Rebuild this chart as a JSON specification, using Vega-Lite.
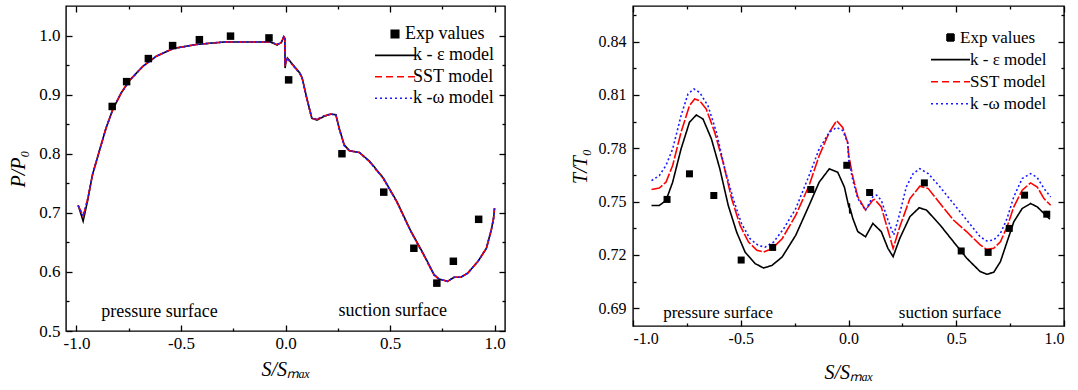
{
  "$schema": "https://vega.github.io/schema/vega-lite/v6.json",
  "padding": {"left": 8, "top": 4, "right": 0, "bottom": 0},
  "spacing": 62,
  "background": "#ffffff",
  "resolve": {"scale": {"color": "independent", "strokeDash": "independent"}, "legend": {"color": "independent", "strokeDash": "independent"}},
  "config": {
    "font": "Liberation Serif",
    "view": {"stroke": "#000000", "strokeWidth": 1.4},
    "axis": {"domain": false, "grid": false, "labelFont": "Liberation Serif", "titleFont": "Liberation Serif", "labelColor": "#000000", "titleColor": "#000000", "tickColor": "#000000", "tickWidth": 1.3, "titleFontWeight": "normal", "titleFontStyle": "italic"},
    "legend": {"labelFont": "Liberation Serif", "labelColor": "#000000"},
    "text": {"font": "Liberation Serif"}
  },
  "datasets": {
    "leftLines": [
      {"s": -0.992, "ratio": 0.713, "series": "k - ε model"},
      {"s": -0.968, "ratio": 0.686, "series": "k - ε model"},
      {"s": -0.947, "ratio": 0.720, "series": "k - ε model"},
      {"s": -0.923, "ratio": 0.765, "series": "k - ε model"},
      {"s": -0.891, "ratio": 0.804, "series": "k - ε model"},
      {"s": -0.858, "ratio": 0.844, "series": "k - ε model"},
      {"s": -0.826, "ratio": 0.875, "series": "k - ε model"},
      {"s": -0.786, "ratio": 0.903, "series": "k - ε model"},
      {"s": -0.746, "ratio": 0.924, "series": "k - ε model"},
      {"s": -0.682, "ratio": 0.948, "series": "k - ε model"},
      {"s": -0.618, "ratio": 0.965, "series": "k - ε model"},
      {"s": -0.537, "ratio": 0.978, "series": "k - ε model"},
      {"s": -0.425, "ratio": 0.985, "series": "k - ε model"},
      {"s": -0.296, "ratio": 0.989, "series": "k - ε model"},
      {"s": -0.168, "ratio": 0.989, "series": "k - ε model"},
      {"s": -0.072, "ratio": 0.989, "series": "k - ε model"},
      {"s": -0.040, "ratio": 0.984, "series": "k - ε model"},
      {"s": -0.020, "ratio": 0.988, "series": "k - ε model"},
      {"s": -0.008, "ratio": 0.998, "series": "k - ε model"},
      {"s": -0.003, "ratio": 0.995, "series": "k - ε model"},
      {"s": -0.002, "ratio": 0.945, "series": "k - ε model"},
      {"s": 0.002, "ratio": 0.955, "series": "k - ε model"},
      {"s": 0.009, "ratio": 0.962, "series": "k - ε model"},
      {"s": 0.030, "ratio": 0.953, "series": "k - ε model"},
      {"s": 0.070, "ratio": 0.936, "series": "k - ε model"},
      {"s": 0.080, "ratio": 0.928, "series": "k - ε model"},
      {"s": 0.102, "ratio": 0.894, "series": "k - ε model"},
      {"s": 0.126, "ratio": 0.860, "series": "k - ε model"},
      {"s": 0.151, "ratio": 0.857, "series": "k - ε model"},
      {"s": 0.183, "ratio": 0.863, "series": "k - ε model"},
      {"s": 0.216, "ratio": 0.867, "series": "k - ε model"},
      {"s": 0.241, "ratio": 0.866, "series": "k - ε model"},
      {"s": 0.257, "ratio": 0.843, "series": "k - ε model"},
      {"s": 0.281, "ratio": 0.815, "series": "k - ε model"},
      {"s": 0.306, "ratio": 0.805, "series": "k - ε model"},
      {"s": 0.354, "ratio": 0.802, "series": "k - ε model"},
      {"s": 0.403, "ratio": 0.787, "series": "k - ε model"},
      {"s": 0.468, "ratio": 0.759, "series": "k - ε model"},
      {"s": 0.533, "ratio": 0.719, "series": "k - ε model"},
      {"s": 0.597, "ratio": 0.671, "series": "k - ε model"},
      {"s": 0.662, "ratio": 0.629, "series": "k - ε model"},
      {"s": 0.710, "ratio": 0.596, "series": "k - ε model"},
      {"s": 0.734, "ratio": 0.588, "series": "k - ε model"},
      {"s": 0.775, "ratio": 0.584, "series": "k - ε model"},
      {"s": 0.807, "ratio": 0.591, "series": "k - ε model"},
      {"s": 0.839, "ratio": 0.591, "series": "k - ε model"},
      {"s": 0.872, "ratio": 0.598, "series": "k - ε model"},
      {"s": 0.921, "ratio": 0.618, "series": "k - ε model"},
      {"s": 0.961, "ratio": 0.640, "series": "k - ε model"},
      {"s": 0.985, "ratio": 0.672, "series": "k - ε model"},
      {"s": 0.995, "ratio": 0.690, "series": "k - ε model"},
      {"s": 1.0, "ratio": 0.708, "series": "k - ε model"},
      {"s": -0.992, "ratio": 0.713, "series": "SST model"},
      {"s": -0.968, "ratio": 0.694, "series": "SST model"},
      {"s": -0.947, "ratio": 0.722, "series": "SST model"},
      {"s": -0.923, "ratio": 0.765, "series": "SST model"},
      {"s": -0.891, "ratio": 0.804, "series": "SST model"},
      {"s": -0.858, "ratio": 0.844, "series": "SST model"},
      {"s": -0.826, "ratio": 0.875, "series": "SST model"},
      {"s": -0.786, "ratio": 0.903, "series": "SST model"},
      {"s": -0.746, "ratio": 0.924, "series": "SST model"},
      {"s": -0.682, "ratio": 0.948, "series": "SST model"},
      {"s": -0.618, "ratio": 0.965, "series": "SST model"},
      {"s": -0.537, "ratio": 0.978, "series": "SST model"},
      {"s": -0.425, "ratio": 0.985, "series": "SST model"},
      {"s": -0.296, "ratio": 0.989, "series": "SST model"},
      {"s": -0.168, "ratio": 0.989, "series": "SST model"},
      {"s": -0.072, "ratio": 0.989, "series": "SST model"},
      {"s": -0.040, "ratio": 0.985, "series": "SST model"},
      {"s": -0.020, "ratio": 0.988, "series": "SST model"},
      {"s": -0.008, "ratio": 0.998, "series": "SST model"},
      {"s": -0.003, "ratio": 0.995, "series": "SST model"},
      {"s": -0.002, "ratio": 0.948, "series": "SST model"},
      {"s": 0.002, "ratio": 0.956, "series": "SST model"},
      {"s": 0.009, "ratio": 0.961, "series": "SST model"},
      {"s": 0.030, "ratio": 0.952, "series": "SST model"},
      {"s": 0.070, "ratio": 0.935, "series": "SST model"},
      {"s": 0.080, "ratio": 0.927, "series": "SST model"},
      {"s": 0.102, "ratio": 0.893, "series": "SST model"},
      {"s": 0.126, "ratio": 0.860, "series": "SST model"},
      {"s": 0.151, "ratio": 0.858, "series": "SST model"},
      {"s": 0.183, "ratio": 0.864, "series": "SST model"},
      {"s": 0.216, "ratio": 0.867, "series": "SST model"},
      {"s": 0.241, "ratio": 0.866, "series": "SST model"},
      {"s": 0.257, "ratio": 0.842, "series": "SST model"},
      {"s": 0.281, "ratio": 0.814, "series": "SST model"},
      {"s": 0.306, "ratio": 0.805, "series": "SST model"},
      {"s": 0.354, "ratio": 0.802, "series": "SST model"},
      {"s": 0.403, "ratio": 0.786, "series": "SST model"},
      {"s": 0.468, "ratio": 0.758, "series": "SST model"},
      {"s": 0.533, "ratio": 0.718, "series": "SST model"},
      {"s": 0.597, "ratio": 0.670, "series": "SST model"},
      {"s": 0.662, "ratio": 0.628, "series": "SST model"},
      {"s": 0.710, "ratio": 0.595, "series": "SST model"},
      {"s": 0.734, "ratio": 0.588, "series": "SST model"},
      {"s": 0.775, "ratio": 0.584, "series": "SST model"},
      {"s": 0.807, "ratio": 0.591, "series": "SST model"},
      {"s": 0.839, "ratio": 0.591, "series": "SST model"},
      {"s": 0.872, "ratio": 0.598, "series": "SST model"},
      {"s": 0.921, "ratio": 0.618, "series": "SST model"},
      {"s": 0.961, "ratio": 0.640, "series": "SST model"},
      {"s": 0.985, "ratio": 0.672, "series": "SST model"},
      {"s": 0.995, "ratio": 0.690, "series": "SST model"},
      {"s": 1.0, "ratio": 0.708, "series": "SST model"},
      {"s": -0.992, "ratio": 0.712, "series": "k -ω model"},
      {"s": -0.968, "ratio": 0.695, "series": "k -ω model"},
      {"s": -0.947, "ratio": 0.722, "series": "k -ω model"},
      {"s": -0.923, "ratio": 0.765, "series": "k -ω model"},
      {"s": -0.891, "ratio": 0.804, "series": "k -ω model"},
      {"s": -0.858, "ratio": 0.844, "series": "k -ω model"},
      {"s": -0.826, "ratio": 0.875, "series": "k -ω model"},
      {"s": -0.786, "ratio": 0.903, "series": "k -ω model"},
      {"s": -0.746, "ratio": 0.924, "series": "k -ω model"},
      {"s": -0.682, "ratio": 0.948, "series": "k -ω model"},
      {"s": -0.618, "ratio": 0.965, "series": "k -ω model"},
      {"s": -0.537, "ratio": 0.978, "series": "k -ω model"},
      {"s": -0.425, "ratio": 0.985, "series": "k -ω model"},
      {"s": -0.296, "ratio": 0.989, "series": "k -ω model"},
      {"s": -0.168, "ratio": 0.989, "series": "k -ω model"},
      {"s": -0.072, "ratio": 0.989, "series": "k -ω model"},
      {"s": -0.040, "ratio": 0.985, "series": "k -ω model"},
      {"s": -0.020, "ratio": 0.989, "series": "k -ω model"},
      {"s": -0.008, "ratio": 0.999, "series": "k -ω model"},
      {"s": -0.003, "ratio": 0.996, "series": "k -ω model"},
      {"s": -0.002, "ratio": 0.950, "series": "k -ω model"},
      {"s": 0.002, "ratio": 0.957, "series": "k -ω model"},
      {"s": 0.009, "ratio": 0.962, "series": "k -ω model"},
      {"s": 0.030, "ratio": 0.952, "series": "k -ω model"},
      {"s": 0.070, "ratio": 0.935, "series": "k -ω model"},
      {"s": 0.080, "ratio": 0.927, "series": "k -ω model"},
      {"s": 0.102, "ratio": 0.893, "series": "k -ω model"},
      {"s": 0.126, "ratio": 0.860, "series": "k -ω model"},
      {"s": 0.151, "ratio": 0.858, "series": "k -ω model"},
      {"s": 0.183, "ratio": 0.864, "series": "k -ω model"},
      {"s": 0.216, "ratio": 0.867, "series": "k -ω model"},
      {"s": 0.241, "ratio": 0.866, "series": "k -ω model"},
      {"s": 0.257, "ratio": 0.842, "series": "k -ω model"},
      {"s": 0.281, "ratio": 0.814, "series": "k -ω model"},
      {"s": 0.306, "ratio": 0.805, "series": "k -ω model"},
      {"s": 0.354, "ratio": 0.802, "series": "k -ω model"},
      {"s": 0.403, "ratio": 0.786, "series": "k -ω model"},
      {"s": 0.468, "ratio": 0.758, "series": "k -ω model"},
      {"s": 0.533, "ratio": 0.718, "series": "k -ω model"},
      {"s": 0.597, "ratio": 0.670, "series": "k -ω model"},
      {"s": 0.662, "ratio": 0.628, "series": "k -ω model"},
      {"s": 0.710, "ratio": 0.595, "series": "k -ω model"},
      {"s": 0.734, "ratio": 0.588, "series": "k -ω model"},
      {"s": 0.775, "ratio": 0.584, "series": "k -ω model"},
      {"s": 0.807, "ratio": 0.591, "series": "k -ω model"},
      {"s": 0.839, "ratio": 0.591, "series": "k -ω model"},
      {"s": 0.872, "ratio": 0.598, "series": "k -ω model"},
      {"s": 0.921, "ratio": 0.618, "series": "k -ω model"},
      {"s": 0.961, "ratio": 0.640, "series": "k -ω model"},
      {"s": 0.985, "ratio": 0.672, "series": "k -ω model"},
      {"s": 0.995, "ratio": 0.690, "series": "k -ω model"},
      {"s": 1.0, "ratio": 0.708, "series": "k -ω model"}
    ],
    "leftExp": [
      {"s": -0.829, "ratio": 0.880, "series": "Exp values"},
      {"s": -0.760, "ratio": 0.922, "series": "Exp values"},
      {"s": -0.656, "ratio": 0.961, "series": "Exp values"},
      {"s": -0.540, "ratio": 0.983, "series": "Exp values"},
      {"s": -0.412, "ratio": 0.993, "series": "Exp values"},
      {"s": -0.263, "ratio": 0.999, "series": "Exp values"},
      {"s": -0.079, "ratio": 0.996, "series": "Exp values"},
      {"s": 0.015, "ratio": 0.925, "series": "Exp values"},
      {"s": 0.270, "ratio": 0.800, "series": "Exp values"},
      {"s": 0.470, "ratio": 0.735, "series": "Exp values"},
      {"s": 0.614, "ratio": 0.640, "series": "Exp values"},
      {"s": 0.724, "ratio": 0.581, "series": "Exp values"},
      {"s": 0.803, "ratio": 0.618, "series": "Exp values"},
      {"s": 0.924, "ratio": 0.689, "series": "Exp values"}
    ],
    "leftText": [
      {"s": -0.603, "ratio": 0.533, "label": "pressure surface"},
      {"s": 0.513, "ratio": 0.534, "label": "suction surface"}
    ],
    "rightLines": [
      {"s": -0.914, "ratio": 0.7478, "series": "k - ε model"},
      {"s": -0.878, "ratio": 0.7478, "series": "k - ε model"},
      {"s": -0.847, "ratio": 0.7506, "series": "k - ε model"},
      {"s": -0.816, "ratio": 0.7609, "series": "k - ε model"},
      {"s": -0.777, "ratio": 0.7796, "series": "k - ε model"},
      {"s": -0.738, "ratio": 0.7946, "series": "k - ε model"},
      {"s": -0.706, "ratio": 0.7987, "series": "k - ε model"},
      {"s": -0.675, "ratio": 0.7964, "series": "k - ε model"},
      {"s": -0.636, "ratio": 0.7852, "series": "k - ε model"},
      {"s": -0.597, "ratio": 0.7684, "series": "k - ε model"},
      {"s": -0.558, "ratio": 0.7478, "series": "k - ε model"},
      {"s": -0.519, "ratio": 0.7328, "series": "k - ε model"},
      {"s": -0.480, "ratio": 0.7216, "series": "k - ε model"},
      {"s": -0.433, "ratio": 0.7151, "series": "k - ε model"},
      {"s": -0.394, "ratio": 0.7126, "series": "k - ε model"},
      {"s": -0.355, "ratio": 0.7141, "series": "k - ε model"},
      {"s": -0.308, "ratio": 0.7188, "series": "k - ε model"},
      {"s": -0.245, "ratio": 0.7310, "series": "k - ε model"},
      {"s": -0.183, "ratio": 0.7478, "series": "k - ε model"},
      {"s": -0.136, "ratio": 0.7609, "series": "k - ε model"},
      {"s": -0.089, "ratio": 0.7684, "series": "k - ε model"},
      {"s": -0.050, "ratio": 0.7665, "series": "k - ε model"},
      {"s": -0.019, "ratio": 0.7581, "series": "k - ε model"},
      {"s": 0.000, "ratio": 0.7478, "series": "k - ε model"},
      {"s": 0.004, "ratio": 0.7490, "series": "k - ε model"},
      {"s": 0.006, "ratio": 0.7433, "series": "k - ε model"},
      {"s": 0.010, "ratio": 0.7450, "series": "k - ε model"},
      {"s": 0.020, "ratio": 0.7405, "series": "k - ε model"},
      {"s": 0.043, "ratio": 0.7331, "series": "k - ε model"},
      {"s": 0.079, "ratio": 0.7302, "series": "k - ε model"},
      {"s": 0.113, "ratio": 0.7377, "series": "k - ε model"},
      {"s": 0.152, "ratio": 0.7331, "series": "k - ε model"},
      {"s": 0.183, "ratio": 0.7237, "series": "k - ε model"},
      {"s": 0.207, "ratio": 0.7190, "series": "k - ε model"},
      {"s": 0.238, "ratio": 0.7293, "series": "k - ε model"},
      {"s": 0.285, "ratio": 0.7415, "series": "k - ε model"},
      {"s": 0.328, "ratio": 0.7465, "series": "k - ε model"},
      {"s": 0.362, "ratio": 0.7452, "series": "k - ε model"},
      {"s": 0.425, "ratio": 0.7368, "series": "k - ε model"},
      {"s": 0.487, "ratio": 0.7274, "series": "k - ε model"},
      {"s": 0.549, "ratio": 0.7181, "series": "k - ε model"},
      {"s": 0.611, "ratio": 0.7106, "series": "k - ε model"},
      {"s": 0.642, "ratio": 0.7091, "series": "k - ε model"},
      {"s": 0.674, "ratio": 0.7102, "series": "k - ε model"},
      {"s": 0.705, "ratio": 0.7162, "series": "k - ε model"},
      {"s": 0.736, "ratio": 0.7274, "series": "k - ε model"},
      {"s": 0.767, "ratio": 0.7386, "series": "k - ε model"},
      {"s": 0.806, "ratio": 0.7461, "series": "k - ε model"},
      {"s": 0.845, "ratio": 0.7489, "series": "k - ε model"},
      {"s": 0.876, "ratio": 0.7470, "series": "k - ε model"},
      {"s": 0.907, "ratio": 0.7433, "series": "k - ε model"},
      {"s": 0.935, "ratio": 0.7401, "series": "k - ε model"},
      {"s": -0.914, "ratio": 0.7568, "series": "SST model"},
      {"s": -0.878, "ratio": 0.7576, "series": "SST model"},
      {"s": -0.847, "ratio": 0.7609, "series": "SST model"},
      {"s": -0.816, "ratio": 0.7703, "series": "SST model"},
      {"s": -0.777, "ratio": 0.7890, "series": "SST model"},
      {"s": -0.738, "ratio": 0.8039, "series": "SST model"},
      {"s": -0.714, "ratio": 0.8077, "series": "SST model"},
      {"s": -0.691, "ratio": 0.8067, "series": "SST model"},
      {"s": -0.660, "ratio": 0.8020, "series": "SST model"},
      {"s": -0.621, "ratio": 0.7890, "series": "SST model"},
      {"s": -0.582, "ratio": 0.7721, "series": "SST model"},
      {"s": -0.542, "ratio": 0.7515, "series": "SST model"},
      {"s": -0.503, "ratio": 0.7366, "series": "SST model"},
      {"s": -0.464, "ratio": 0.7272, "series": "SST model"},
      {"s": -0.425, "ratio": 0.7226, "series": "SST model"},
      {"s": -0.394, "ratio": 0.7216, "series": "SST model"},
      {"s": -0.355, "ratio": 0.7235, "series": "SST model"},
      {"s": -0.308, "ratio": 0.7291, "series": "SST model"},
      {"s": -0.245, "ratio": 0.7422, "series": "SST model"},
      {"s": -0.183, "ratio": 0.7590, "series": "SST model"},
      {"s": -0.136, "ratio": 0.7758, "series": "SST model"},
      {"s": -0.089, "ratio": 0.7890, "series": "SST model"},
      {"s": -0.055, "ratio": 0.7955, "series": "SST model"},
      {"s": -0.027, "ratio": 0.7917, "series": "SST model"},
      {"s": -0.004, "ratio": 0.7833, "series": "SST model"},
      {"s": 0.001, "ratio": 0.7761, "series": "SST model"},
      {"s": 0.020, "ratio": 0.7639, "series": "SST model"},
      {"s": 0.043, "ratio": 0.7527, "series": "SST model"},
      {"s": 0.079, "ratio": 0.7452, "series": "SST model"},
      {"s": 0.113, "ratio": 0.7508, "series": "SST model"},
      {"s": 0.121, "ratio": 0.7512, "series": "SST model"},
      {"s": 0.152, "ratio": 0.7470, "series": "SST model"},
      {"s": 0.183, "ratio": 0.7339, "series": "SST model"},
      {"s": 0.207, "ratio": 0.7236, "series": "SST model"},
      {"s": 0.238, "ratio": 0.7358, "series": "SST model"},
      {"s": 0.285, "ratio": 0.7517, "series": "SST model"},
      {"s": 0.331, "ratio": 0.7586, "series": "SST model"},
      {"s": 0.370, "ratio": 0.7573, "series": "SST model"},
      {"s": 0.425, "ratio": 0.7489, "series": "SST model"},
      {"s": 0.487, "ratio": 0.7396, "series": "SST model"},
      {"s": 0.549, "ratio": 0.7330, "series": "SST model"},
      {"s": 0.611, "ratio": 0.7256, "series": "SST model"},
      {"s": 0.642, "ratio": 0.7231, "series": "SST model"},
      {"s": 0.674, "ratio": 0.7237, "series": "SST model"},
      {"s": 0.705, "ratio": 0.7274, "series": "SST model"},
      {"s": 0.736, "ratio": 0.7358, "series": "SST model"},
      {"s": 0.767, "ratio": 0.7470, "series": "SST model"},
      {"s": 0.806, "ratio": 0.7564, "series": "SST model"},
      {"s": 0.845, "ratio": 0.7605, "series": "SST model"},
      {"s": 0.876, "ratio": 0.7582, "series": "SST model"},
      {"s": 0.907, "ratio": 0.7517, "series": "SST model"},
      {"s": 0.938, "ratio": 0.7479, "series": "SST model"},
      {"s": -0.914, "ratio": 0.7618, "series": "k -ω model"},
      {"s": -0.878, "ratio": 0.7646, "series": "k -ω model"},
      {"s": -0.847, "ratio": 0.7703, "series": "k -ω model"},
      {"s": -0.816, "ratio": 0.7796, "series": "k -ω model"},
      {"s": -0.777, "ratio": 0.7983, "series": "k -ω model"},
      {"s": -0.745, "ratio": 0.8105, "series": "k -ω model"},
      {"s": -0.717, "ratio": 0.8133, "series": "k -ω model"},
      {"s": -0.691, "ratio": 0.8114, "series": "k -ω model"},
      {"s": -0.652, "ratio": 0.8039, "series": "k -ω model"},
      {"s": -0.613, "ratio": 0.7890, "series": "k -ω model"},
      {"s": -0.574, "ratio": 0.7684, "series": "k -ω model"},
      {"s": -0.535, "ratio": 0.7515, "series": "k -ω model"},
      {"s": -0.496, "ratio": 0.7375, "series": "k -ω model"},
      {"s": -0.457, "ratio": 0.7291, "series": "k -ω model"},
      {"s": -0.418, "ratio": 0.7253, "series": "k -ω model"},
      {"s": -0.387, "ratio": 0.7244, "series": "k -ω model"},
      {"s": -0.348, "ratio": 0.7272, "series": "k -ω model"},
      {"s": -0.301, "ratio": 0.7347, "series": "k -ω model"},
      {"s": -0.245, "ratio": 0.7460, "series": "k -ω model"},
      {"s": -0.183, "ratio": 0.7646, "series": "k -ω model"},
      {"s": -0.136, "ratio": 0.7796, "series": "k -ω model"},
      {"s": -0.089, "ratio": 0.7890, "series": "k -ω model"},
      {"s": -0.055, "ratio": 0.7917, "series": "k -ω model"},
      {"s": -0.027, "ratio": 0.7899, "series": "k -ω model"},
      {"s": -0.004, "ratio": 0.7833, "series": "k -ω model"},
      {"s": 0.001, "ratio": 0.7733, "series": "k -ω model"},
      {"s": 0.020, "ratio": 0.7620, "series": "k -ω model"},
      {"s": 0.043, "ratio": 0.7517, "series": "k -ω model"},
      {"s": 0.079, "ratio": 0.7452, "series": "k -ω model"},
      {"s": 0.113, "ratio": 0.7527, "series": "k -ω model"},
      {"s": 0.131, "ratio": 0.7536, "series": "k -ω model"},
      {"s": 0.152, "ratio": 0.7508, "series": "k -ω model"},
      {"s": 0.183, "ratio": 0.7396, "series": "k -ω model"},
      {"s": 0.210, "ratio": 0.7312, "series": "k -ω model"},
      {"s": 0.238, "ratio": 0.7433, "series": "k -ω model"},
      {"s": 0.268, "ratio": 0.7582, "series": "k -ω model"},
      {"s": 0.300, "ratio": 0.7657, "series": "k -ω model"},
      {"s": 0.331, "ratio": 0.7685, "series": "k -ω model"},
      {"s": 0.370, "ratio": 0.7657, "series": "k -ω model"},
      {"s": 0.425, "ratio": 0.7582, "series": "k -ω model"},
      {"s": 0.487, "ratio": 0.7489, "series": "k -ω model"},
      {"s": 0.549, "ratio": 0.7396, "series": "k -ω model"},
      {"s": 0.611, "ratio": 0.7302, "series": "k -ω model"},
      {"s": 0.642, "ratio": 0.7278, "series": "k -ω model"},
      {"s": 0.674, "ratio": 0.7284, "series": "k -ω model"},
      {"s": 0.705, "ratio": 0.7321, "series": "k -ω model"},
      {"s": 0.736, "ratio": 0.7405, "series": "k -ω model"},
      {"s": 0.767, "ratio": 0.7527, "series": "k -ω model"},
      {"s": 0.806, "ratio": 0.7630, "series": "k -ω model"},
      {"s": 0.845, "ratio": 0.7657, "series": "k -ω model"},
      {"s": 0.876, "ratio": 0.7635, "series": "k -ω model"},
      {"s": 0.907, "ratio": 0.7573, "series": "k -ω model"},
      {"s": 0.938, "ratio": 0.7526, "series": "k -ω model"}
    ],
    "rightExp": [
      {"s": -0.842, "ratio": 0.7512, "series": "Exp values"},
      {"s": -0.738, "ratio": 0.7656, "series": "Exp values"},
      {"s": -0.625, "ratio": 0.7534, "series": "Exp values"},
      {"s": -0.498, "ratio": 0.7171, "series": "Exp values"},
      {"s": -0.352, "ratio": 0.7242, "series": "Exp values"},
      {"s": -0.175, "ratio": 0.7568, "series": "Exp values"},
      {"s": -0.008, "ratio": 0.7704, "series": "Exp values"},
      {"s": 0.098, "ratio": 0.7551, "series": "Exp values"},
      {"s": 0.352, "ratio": 0.7605, "series": "Exp values"},
      {"s": 0.523, "ratio": 0.7222, "series": "Exp values"},
      {"s": 0.648, "ratio": 0.7214, "series": "Exp values"},
      {"s": 0.746, "ratio": 0.7349, "series": "Exp values"},
      {"s": 0.817, "ratio": 0.7536, "series": "Exp values"},
      {"s": 0.920, "ratio": 0.7429, "series": "Exp values"}
    ],
    "rightText": [
      {"s": -0.605, "ratio": 0.6872, "label": "pressure surface"},
      {"s": 0.471, "ratio": 0.6872, "label": "suction surface"}
    ]
  },
  "hconcat": [
    {
      "width": 439,
      "height": 325,
      "resolve": {"axis": {"x": "independent", "y": "independent"}},
      "layer": [
        {
          "data": {"name": "leftLines"},
          "mark": {"type": "line", "strokeWidth": 1.6},
          "encoding": {
            "x": {"field": "s", "type": "quantitative", "scale": {"domain": [-1.05, 1.05], "nice": false, "zero": false},
              "axis": {"orient": "bottom", "values": [-1, -0.5, 0, 0.5, 1], "tickSize": -6, "labelPadding": 10, "labelFontSize": 17, "labelFont": "Liberation Serif",
                "labelExpr": "datum.value < 0 ? '-' + format(-datum.value, '.1f') : format(datum.value, '.1f')",
                "title": "S/Sₘₐₓ", "titleFont": "Liberation Serif", "titleFontSize": 20, "titlePadding": 8}},
            "y": {"field": "ratio", "type": "quantitative", "scale": {"domain": [0.5, 1.05], "nice": false, "zero": false},
              "axis": {"orient": "left", "values": [0.5, 0.6, 0.7, 0.8, 0.9, 1.0], "tickSize": -6, "labelPadding": 12, "labelFontSize": 17, "labelFont": "Liberation Serif", "format": ".1f",
                "title": "P/P₀", "titleFont": "Liberation Serif", "titleFontSize": 20, "titlePadding": 10}},
            "color": {"field": "series", "type": "nominal",
              "scale": {"domain": ["Exp values", "k - ε model", "SST model", "k -ω model"], "range": ["#000000", "#000000", "#ff0000", "#1a1aff"]},
              "legend": {"orient": "none", "legendX": 320, "legendY": 19, "title": null, "padding": 0, "labelFont": "Liberation Serif", "labelFontSize": 18, "labelOffset": 9, "rowPadding": 3.4, "symbolSize": 100,
                "encode": {
                  "symbols": {"update": {
                    "shape": {"signal": "datum.value === 'Exp values' ? 'square' : 'M-4,0H4'"},
                    "size": {"signal": "datum.value === 'Exp values' ? 56 : 100"},
                    "fill": {"signal": "datum.value === 'Exp values' ? '#000000' : 'transparent'"},
                    "stroke": {"signal": "datum.value === 'SST model' ? '#ff0000' : datum.value === 'k -ω model' ? '#1a1aff' : datum.value === 'Exp values' ? 'transparent' : '#000000'"},
                    "strokeDash": {"signal": "datum.value === 'SST model' ? [7,4] : datum.value === 'k -ω model' ? [2,3] : [1,0]"},
                    "strokeWidth": {"value": 1.6},
                    "opacity": {"value": 1}
                  }},
                  "labels": {"update": {"dx": {"signal": "datum.value === 'Exp values' ? -8 : 0"}}}
                }}},
            "strokeDash": {"field": "series", "type": "nominal",
              "scale": {"domain": ["k - ε model", "SST model", "k -ω model"], "range": [[1, 0], [9, 3], [2, 2.5]]}, "legend": null}
          }
        },
        {
          "data": {"name": "leftExp"},
          "mark": {"type": "point", "shape": "square", "filled": true, "size": 56, "opacity": 1},
          "encoding": {
            "x": {"field": "s", "type": "quantitative", "axis": {"orient": "top", "values": [-1, -0.5, 0, 0.5, 1], "tickSize": -6, "labels": false, "title": null}},
            "y": {"field": "ratio", "type": "quantitative", "axis": {"orient": "right", "values": [0.5, 0.6, 0.7, 0.8, 0.9, 1.0], "tickSize": -6, "labels": false, "title": null}},
            "color": {"field": "series", "type": "nominal"}
          }
        },
        {
          "data": {"name": "leftText"},
          "mark": {"type": "text", "font": "Liberation Serif", "fontSize": 18, "color": "#000000"},
          "encoding": {
            "x": {"field": "s", "type": "quantitative", "axis": {"orient": "bottom", "values": [-0.75, -0.25, 0.25, 0.75], "tickSize": -3, "labels": false, "title": null}},
            "y": {"field": "ratio", "type": "quantitative", "axis": {"orient": "left", "values": [0.55, 0.65, 0.75, 0.85, 0.95], "tickSize": -3, "labels": false, "title": null}},
            "text": {"field": "label", "type": "nominal"}
          }
        },
        {
          "data": {"name": "leftExp"},
          "mark": {"type": "point", "opacity": 0},
          "encoding": {
            "x": {"field": "s", "type": "quantitative", "axis": {"orient": "top", "values": [-0.75, -0.25, 0.25, 0.75], "tickSize": -3, "labels": false, "title": null}},
            "y": {"field": "ratio", "type": "quantitative", "axis": {"orient": "right", "values": [0.55, 0.65, 0.75, 0.85, 0.95], "tickSize": -3, "labels": false, "title": null}}
          }
        }
      ]
    },
    {
      "width": 431,
      "height": 320,
      "resolve": {"axis": {"x": "independent", "y": "independent"}},
      "layer": [
        {
          "data": {"name": "rightLines"},
          "mark": {"type": "line", "strokeWidth": 1.6},
          "encoding": {
            "x": {"field": "s", "type": "quantitative", "scale": {"domain": [-1.0, 1.0], "nice": false, "zero": false},
              "axis": {"orient": "bottom", "values": [-1, -0.5, 0, 0.5, 1], "tickSize": -6, "labelPadding": 10, "labelFontSize": 16, "labelFont": "Liberation Serif",
                "labelExpr": "datum.value < 0 ? '-' + format(-datum.value, '.1f') : format(datum.value, '.1f')",
                "title": "S/Sₘₐₓ", "titleFont": "Liberation Serif", "titleFontSize": 20, "titlePadding": 16}},
            "y": {"field": "ratio", "type": "quantitative", "scale": {"domain": [0.68, 0.86], "nice": false, "zero": false},
              "axis": {"orient": "left", "values": [0.69, 0.72, 0.75, 0.78, 0.81, 0.84], "tickSize": -6, "labelPadding": 13, "labelFontSize": 16, "labelFont": "Liberation Serif", "format": ".2f",
                "title": "T/T₀", "titleFont": "Liberation Serif", "titleFontSize": 20, "titlePadding": 8}},
            "color": {"field": "series", "type": "nominal",
              "scale": {"domain": ["Exp values", "k - ε model", "SST model", "k -ω model"], "range": ["#000000", "#000000", "#ff0000", "#1a1aff"]},
              "legend": {"orient": "none", "legendX": 309, "legendY": 23, "title": null, "padding": 0, "labelFont": "Liberation Serif", "labelFontSize": 17, "labelOffset": 11, "rowPadding": 4.1, "symbolSize": 100,
                "encode": {
                  "symbols": {"update": {
                    "shape": {"signal": "datum.value === 'Exp values' ? 'square' : 'M-3.9,0H3.9'"},
                    "size": {"signal": "datum.value === 'Exp values' ? 49 : 100"},
                    "fill": {"signal": "datum.value === 'Exp values' ? '#000000' : 'transparent'"},
                    "stroke": {"signal": "datum.value === 'SST model' ? '#ff0000' : datum.value === 'k -ω model' ? '#1a1aff' : datum.value === 'Exp values' ? 'transparent' : '#000000'"},
                    "strokeDash": {"signal": "datum.value === 'SST model' ? [7,4] : datum.value === 'k -ω model' ? [2,3] : [1,0]"},
                    "strokeWidth": {"value": 1.6},
                    "opacity": {"value": 1}
                  }},
                  "labels": {"update": {"dx": {"signal": "datum.value === 'Exp values' ? -10 : 0"}}}
                }}},
            "strokeDash": {"field": "series", "type": "nominal",
              "scale": {"domain": ["k - ε model", "SST model", "k -ω model"], "range": [[1, 0], [12, 2], [2, 2.5]]}, "legend": null}
          }
        },
        {
          "data": {"name": "rightExp"},
          "mark": {"type": "point", "shape": "square", "filled": true, "size": 49, "opacity": 1},
          "encoding": {
            "x": {"field": "s", "type": "quantitative", "axis": {"orient": "top", "values": [-1, -0.5, 0, 0.5, 1], "tickSize": -6, "labels": false, "title": null}},
            "y": {"field": "ratio", "type": "quantitative", "axis": {"orient": "right", "values": [0.69, 0.72, 0.75, 0.78, 0.81, 0.84], "tickSize": -6, "labels": false, "title": null}},
            "color": {"field": "series", "type": "nominal"}
          }
        },
        {
          "data": {"name": "rightText"},
          "mark": {"type": "text", "font": "Liberation Serif", "fontSize": 17, "color": "#000000"},
          "encoding": {
            "x": {"field": "s", "type": "quantitative", "axis": {"orient": "bottom", "values": [-0.75, -0.25, 0.25, 0.75], "tickSize": -3, "labels": false, "title": null}},
            "y": {"field": "ratio", "type": "quantitative", "axis": {"orient": "left", "values": [0.705, 0.735, 0.765, 0.795, 0.825, 0.855], "tickSize": -3, "labels": false, "title": null}},
            "text": {"field": "label", "type": "nominal"}
          }
        },
        {
          "data": {"name": "rightExp"},
          "mark": {"type": "point", "opacity": 0},
          "encoding": {
            "x": {"field": "s", "type": "quantitative", "axis": {"orient": "top", "values": [-0.75, -0.25, 0.25, 0.75], "tickSize": -3, "labels": false, "title": null}},
            "y": {"field": "ratio", "type": "quantitative", "axis": {"orient": "right", "values": [0.705, 0.735, 0.765, 0.795, 0.825, 0.855], "tickSize": -3, "labels": false, "title": null}}
          }
        }
      ]
    }
  ]
}
